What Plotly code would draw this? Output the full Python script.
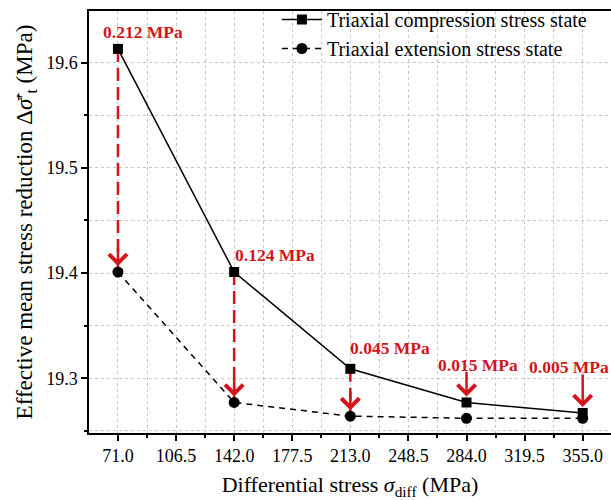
import plotly.graph_objects as go

# ---- data ----
diff_stress = [71.0, 142.0, 213.0, 284.0, 355.0]
compression = [19.613, 19.401, 19.309, 19.277, 19.267]
extension = [19.401, 19.277, 19.264, 19.262, 19.262]
reduction_labels = ["0.212 MPa", "0.124 MPa", "0.045 MPa", "0.015 MPa", "0.005 MPa"]

RED = "#d3141c"
FONT = "'Liberation Serif', 'Times New Roman', 'DejaVu Serif', serif"

fig = go.Figure()

# dashed red connectors for first three points
for i in range(3):
    fig.add_trace(go.Scatter(
        x=[diff_stress[i], diff_stress[i]],
        y=[compression[i], extension[i]],
        mode="lines",
        line=dict(color=RED, width=2.5, dash="13px,6px"),
        showlegend=False, hoverinfo="skip"))

fig.add_trace(go.Scatter(
    x=diff_stress, y=compression, mode="lines+markers",
    name="Triaxial compression stress state",
    line=dict(color="black", width=1.5),
    marker=dict(symbol="square", size=10, color="black")))
fig.add_trace(go.Scatter(
    x=diff_stress, y=extension, mode="lines+markers",
    name="Triaxial extension stress state",
    line=dict(color="black", width=1.5, dash="6px,5px"),
    marker=dict(symbol="circle", size=11, color="black")))

ann = []
# arrow heads for dashed connectors
for i in range(3):
    ann.append(dict(x=diff_stress[i], y=extension[i], xref="x", yref="y",
                    text="", showarrow=True, ax=0, ay=-26, arrowhead=4,
                    arrowsize=1.4, arrowwidth=2.5, arrowcolor=RED, standoff=6))
# short arrows to compression points
for i, off in zip([3, 4], [-32, -40]):
    ann.append(dict(x=diff_stress[i], y=compression[i], xref="x", yref="y",
                    text="", showarrow=True, ax=0, ay=off, arrowhead=4,
                    arrowsize=1.4, arrowwidth=2.5, arrowcolor=RED, standoff=6))
# labels
label_offsets = [(25, 17), (41, 17), (40, 21), (11, 37), (-14, 46)]
for i, (dx, dy) in enumerate(label_offsets):
    ann.append(dict(x=diff_stress[i], y=compression[i], xref="x", yref="y",
                    text="<b>%s</b>" % reduction_labels[i], showarrow=False,
                    xshift=dx, yshift=dy, xanchor="center", yanchor="middle",
                    font=dict(family=FONT, size=17.5, color=RED)))

fig.update_layout(
    width=611, height=500,
    margin=dict(l=89, r=0, t=10, b=67),
    paper_bgcolor="white", plot_bgcolor="white",
    font=dict(family=FONT, color="black"),
    annotations=ann,
    legend=dict(x=0.36, y=1.025, xanchor="left", yanchor="top",
                bgcolor="rgba(0,0,0,0)", font=dict(family=FONT, size=20),
                tracegroupgap=0, itemwidth=40),
    xaxis=dict(
        range=[53.3, 372.3], tick0=71, dtick=35.5, tickformat=".1f",
        showline=True, linecolor="black", linewidth=1.5, mirror=True,
        ticks="outside", ticklen=6, tickwidth=1.5, tickcolor="black",
        tickfont=dict(family=FONT, size=18),
        showgrid=True, gridcolor="#c8c8c8", griddash="dot", gridwidth=1,
        zeroline=False,
        minor=dict(dtick=17.75, tick0=71, ticks="outside", ticklen=3,
                   tickwidth=1.5, tickcolor="black", showgrid=True,
                   gridcolor="#c8c8c8", griddash="dot", gridwidth=1),
        title=dict(text="Differential stress <i>σ</i><sub>diff</sub> (MPa)",
                   font=dict(family=FONT, size=22), standoff=12)),
    yaxis=dict(
        range=[19.248, 19.649], tick0=19.3, dtick=0.1, tickformat=".1f",
        showline=True, linecolor="black", linewidth=1.5,
        ticks="outside", ticklen=6, tickwidth=1.5, tickcolor="black",
        tickfont=dict(family=FONT, size=18),
        showgrid=True, gridcolor="#c8c8c8", griddash="dot", gridwidth=1,
        zeroline=False,
        minor=dict(dtick=0.05, tick0=19.3, ticks="outside", ticklen=3,
                   tickwidth=1.5, tickcolor="black", showgrid=True,
                   gridcolor="#c8c8c8", griddash="dot", gridwidth=1),
        title=dict(text="Effective mean stress reduction Δ<i>σ̄</i>′<sub>t</sub> (MPa)",
                   font=dict(family=FONT, size=23), standoff=7)),
)

fig.write_html("out.html")
